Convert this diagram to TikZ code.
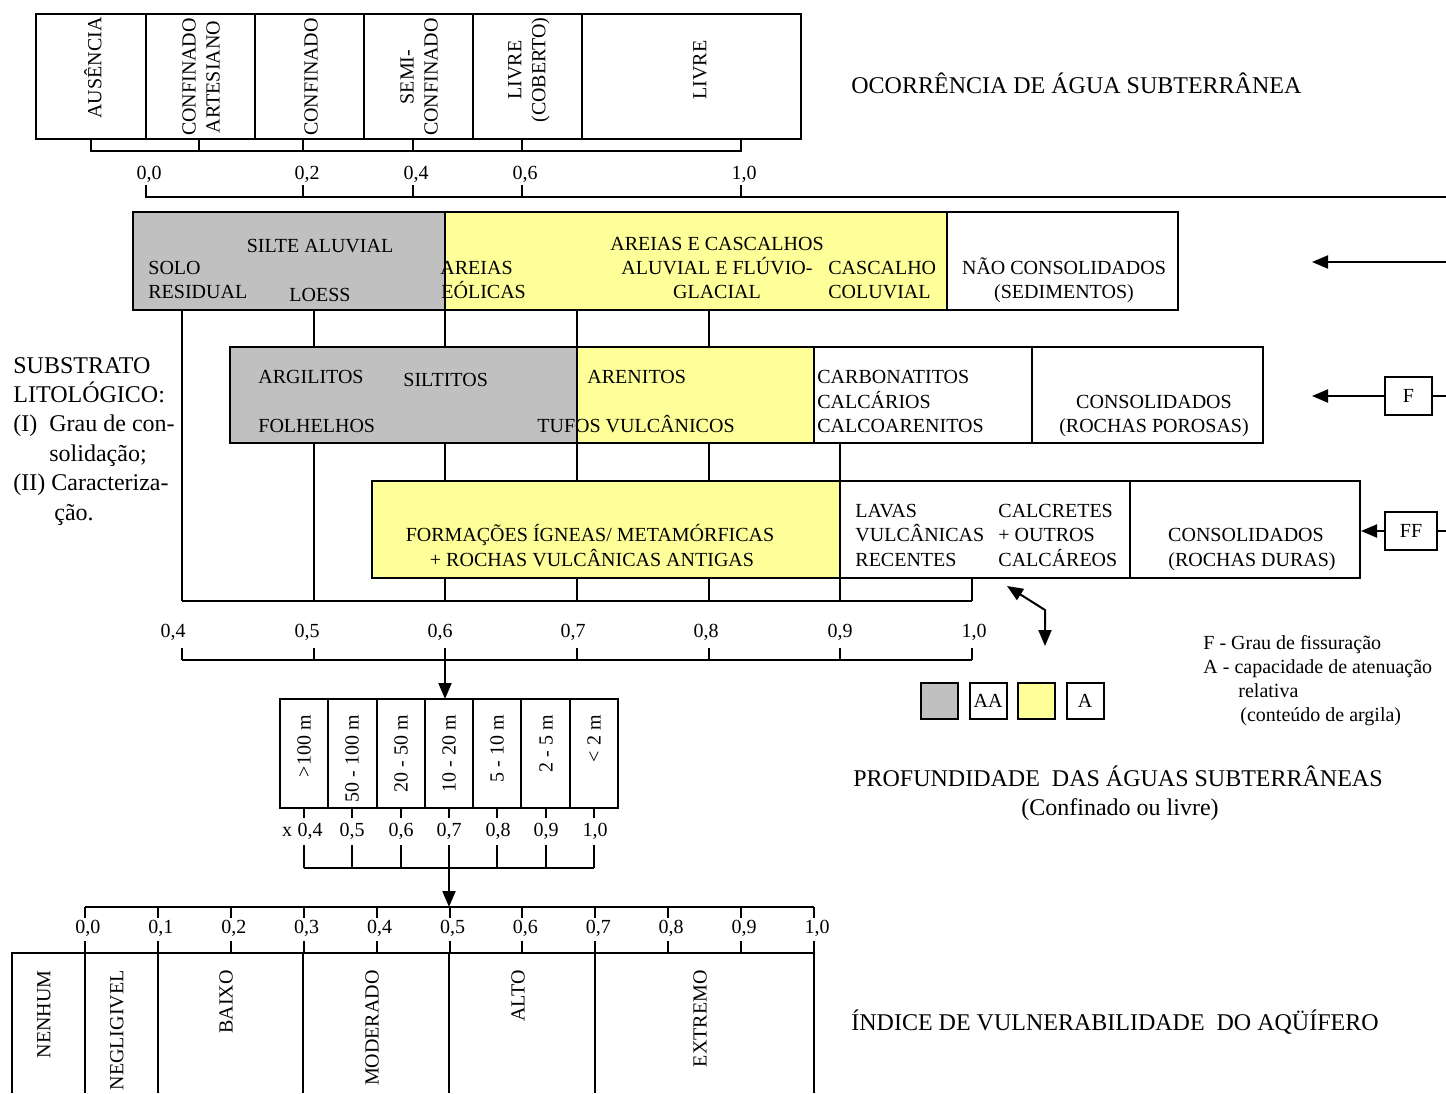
\documentclass[tikz,border=0pt]{standalone}
\usepackage{fontspec}
\setmainfont{Liberation Serif}
\usetikzlibrary{arrows.meta}
\definecolor{gr}{HTML}{C0C0C0}
\definecolor{ye}{HTML}{FFFF99}
\begin{document}
\begin{tikzpicture}[x=0.5pt,y=-0.5pt,
  ln/.style={line width=1pt},
  t/.style={inner sep=0pt,font=\fontsize{10}{12}\selectfont},
  tl/.style={inner sep=0pt,font=\fontsize{12}{14.7}\selectfont},
  vt/.style={t,rotate=90,align=center},
  arr/.style={ln,-{Triangle[length=8pt,width=6.5pt]}},
  lbox/.style={draw,ln,t,minimum width=18.5pt,minimum height=18pt},
]
\useasboundingbox (0,0) rectangle (1446,1093);

% ---------- top: occurrence ----------
\draw[ln] (36,14) rectangle (801,139);
\foreach \x in {146,255,364,473,582} \draw[ln] (\x,14)--(\x,139);
\node[vt] (aus) at (93,68) {AUSÊNCIA};
\node[vt] (cart) at (201,77) {CONFINADO\\ARTESIANO};
\node[vt] (conf) at (311,77) {CONFINADO};
\node[vt] (semi) at (419,77) {SEMI-\\CONFINADO};
\node[vt] (livc) at (529,70) {LIVRE\\(COBERTO)};
\node[vt] (liv) at (700,70) {LIVRE};
\draw[ln] (91,139)--(91,151)--(741,151)--(741,139);
\foreach \x in {199,303,413,522} \draw[ln] (\x,139)--(\x,151);
\node[t,anchor=base] (o0) at (149,179) {0,0};
\node[t,anchor=base] (o2) at (307,179) {0,2};
\node[t,anchor=base] (o4) at (416,179) {0,4};
\node[t,anchor=base] (o6) at (525,179) {0,6};
\node[t,anchor=base] (o10) at (744,179) {1,0};
\draw[ln] (146,185)--(146,197)--(1446,197);
\foreach \x in {303,413,522,741} \draw[ln] (\x,185)--(\x,197);
\node[tl,anchor=base west] (ocor) at (851,93) {OCORRÊNCIA DE ÁGUA SUBTERRÂNEA};

% ---------- right side arrows ----------
\coordinate (r1) at (1446,262); \coordinate (a1) at (1312,262);
\draw[arr] (r1)--(a1);
\node[draw,ln,t,minimum width=23.5pt,minimum height=19pt] (F) at (1408.5,396) {F};
\coordinate (r2) at (1446,396); \coordinate (a2) at (1312,396);
\draw[ln] (r2)--(F.east); \draw[arr] (F.west)--(a2);
\node[draw,ln,t,minimum width=26pt,minimum height=19pt] (FF) at (1411,531) {FF};
\coordinate (r3) at (1446,531); \coordinate (a3) at (1361,531);
\draw[ln] (r3)--(FF.east); \draw[arr] (FF.west)--(a3);

% ---------- row 1 ----------
\fill[gr] (133,212) rectangle (445,310);
\fill[ye] (445,212) rectangle (947,310);
\draw[ln] (133,212) rectangle (1178,310);
\draw[ln] (445,212)--(445,310);
\draw[ln] (947,212)--(947,310);
\node[t,anchor=base] (silte) at (320,252) {SILTE ALUVIAL};
\node[t,anchor=base west] (solo) at (148,274) {SOLO};
\node[t,anchor=base west] (resid) at (148,298) {RESIDUAL};
\node[t,anchor=base] (loess) at (320,301) {LOESS};
\node[t,anchor=base west] (areias) at (440,274) {AREIAS};
\node[t,anchor=base west] (eolic) at (441,298) {EÓLICAS};
\node[t,anchor=base] (arcas) at (717,250) {AREIAS E CASCALHOS};
\node[t,anchor=base] (aluv) at (717,274) {ALUVIAL E FLÚVIO-};
\node[t,anchor=base] (glac) at (717,298) {GLACIAL};
\node[t,anchor=base west] (casc) at (828,274) {CASCALHO};
\node[t,anchor=base west] (coluv) at (828,298) {COLUVIAL};
\node[t,anchor=base] (naocon) at (1064,274) {NÃO CONSOLIDADOS};
\node[t,anchor=base] (sedim) at (1064,298) {(SEDIMENTOS)};

% ---------- row 2 ----------
\fill[gr] (230,347) rectangle (577,443);
\fill[ye] (577,347) rectangle (814,443);
\draw[ln] (230,347) rectangle (1263,443);
\foreach \x in {577,814,1032} \draw[ln] (\x,347)--(\x,443);
\node[t,anchor=base west] (argil) at (258,383) {ARGILITOS};
\node[t,anchor=base west] (siltit) at (403,386) {SILTITOS};
\node[t,anchor=base west] (folh) at (258,432) {FOLHELHOS};
\node[t,anchor=base west] (aren) at (587,383) {ARENITOS};
\node[t,anchor=base west] (tufos) at (537,432) {TUFOS VULCÂNICOS};
\node[t,anchor=base west] (carb) at (817,383) {CARBONATITOS};
\node[t,anchor=base west] (calc) at (817,408) {CALCÁRIOS};
\node[t,anchor=base west] (calcoa) at (817,432) {CALCOARENITOS};
\node[t,anchor=base] (consp) at (1154,408) {CONSOLIDADOS};
\node[t,anchor=base] (rporo) at (1154,432) {(ROCHAS POROSAS)};

% ---------- row 3 ----------
\fill[ye] (372,481) rectangle (840,578);
\draw[ln] (372,481) rectangle (1360,578);
\foreach \x in {840,1130} \draw[ln] (\x,481)--(\x,578);
\node[t,anchor=base] (form) at (590,541) {FORMAÇÕES ÍGNEAS/ METAMÓRFICAS};
\node[t,anchor=base] (rvulc) at (592,566) {+ ROCHAS VULCÂNICAS ANTIGAS};
\node[t,anchor=base west] (lavas) at (855,517) {LAVAS};
\node[t,anchor=base west] (vulc) at (855,541) {VULCÂNICAS};
\node[t,anchor=base west] (recen) at (855,566) {RECENTES};
\node[t,anchor=base west] (calcr) at (998,517) {CALCRETES};
\node[t,anchor=base west] (outros) at (998,541) {+ OUTROS};
\node[t,anchor=base west] (calcar) at (998,566) {CALCÁREOS};
\node[t,anchor=base] (consd) at (1246,541) {CONSOLIDADOS};
\node[t,anchor=base] (rduras) at (1252,566) {(ROCHAS DURAS)};

% ---------- vertical connectors ----------
\draw[ln] (182,310)--(182,601);
\draw[ln] (314,310)--(314,347) (314,443)--(314,601);
\foreach \x in {445,577,709} \draw[ln] (\x,310)--(\x,347) (\x,443)--(\x,481) (\x,578)--(\x,601);
\draw[ln] (840,443)--(840,481) (840,578)--(840,601);
\draw[ln] (972,578)--(972,601);
\draw[ln] (182,601)--(972,601);
\node[t,anchor=base] (l4) at (173,637) {0,4};
\node[t,anchor=base] (l5) at (307,637) {0,5};
\node[t,anchor=base] (l6) at (440,637) {0,6};
\node[t,anchor=base] (l7) at (573,637) {0,7};
\node[t,anchor=base] (l8) at (706,637) {0,8};
\node[t,anchor=base] (l9) at (840,637) {0,9};
\node[t,anchor=base] (l10) at (974,637) {1,0};
\foreach \x in {182,314,445,577,709,840,972} \draw[ln] (\x,648)--(\x,660);
\draw[ln] (182,660)--(972,660);

% left text
\node[tl,anchor=base west] (subs) at (13,373) {SUBSTRATO};
\node[tl,anchor=base west] (lito) at (13,402) {LITOLÓGICO:};
\node[tl,anchor=base west] (i1) at (13,431) {(I)};
\node[tl,anchor=base west] (grau) at (49,431) {Grau de con-};
\node[tl,anchor=base west] (solid) at (49,461) {solidação;};
\node[tl,anchor=base west] (ii) at (13,490) {(II) Caracteriza-};
\node[tl,anchor=base west] (cao) at (54,520) {ção.};

% double arrow
\coordinate (d1) at (1007,586); \coordinate (d2) at (1045,610); \coordinate (d3) at (1045,646);
\draw[ln,{Triangle[length=8pt,width=6.5pt]}-{Triangle[length=8pt,width=6.5pt]}] (d1)--(d2)--(d3);

% legend
\node[lbox,fill=gr] (lg1) at (939.5,701) {};
\node[lbox] (lg2) at (988,701) {AA};
\node[lbox,fill=ye] (lg3) at (1036.5,701) {};
\node[lbox] (lg4) at (1085,701) {A};
\node[t,anchor=base west] (lf) at (1203,649) {F - Grau de fissuração};
\node[t,anchor=base west] (la) at (1203,673) {A - capacidade de atenuação};
\node[t,anchor=base west] (lr) at (1238,697) {relativa};
\node[t,anchor=base west] (lc) at (1240,721) {(conteúdo de argila)};

% ---------- depth ----------
\coordinate (dt) at (445,699);
\draw[arr] (445,660)--(dt);
\draw[ln] (280,699) rectangle (618,808);
\foreach \i in {1,...,6} \draw[ln] ({280+\i*48.286},699)--({280+\i*48.286},808);
\node[vt,anchor=east] (p1) at (304,715) {>100 m};
\node[vt,anchor=east] (p2) at (352,715) {50 - 100 m};
\node[vt,anchor=east] (p3) at (401,715) {20 - 50 m};
\node[vt,anchor=east] (p4) at (449,715) {10 - 20 m};
\node[vt,anchor=east] (p5) at (497,715) {5 - 10 m};
\node[vt,anchor=east] (p6) at (546,715) {2 - 5 m};
\node[vt,anchor=east] (p7) at (594,715) {< 2 m};
\foreach \x in {304,352,401,449,497,546,594} {\draw[ln] (\x,808)--(\x,818); \draw[ln] (\x,845)--(\x,868);}
\draw[ln] (304,868)--(594,868);
\node[t,anchor=base] (px) at (287,836) {x};
\node[t,anchor=base] (q4) at (310,836) {0,4};
\node[t,anchor=base] (q5) at (352,836) {0,5};
\node[t,anchor=base] (q6) at (401,836) {0,6};
\node[t,anchor=base] (q7) at (449,836) {0,7};
\node[t,anchor=base] (q8) at (498,836) {0,8};
\node[t,anchor=base] (q9) at (546,836) {0,9};
\node[t,anchor=base] (q10) at (595,836) {1,0};
\node[tl,anchor=base] (prof) at (1118,786) {PROFUNDIDADE\ \ DAS ÁGUAS SUBTERRÂNEAS};
\node[tl,anchor=base] (confl) at (1120,815) {(Confinado ou livre)};

% ---------- bottom ----------
\coordinate (bt) at (449,907);
\draw[arr] (449,868)--(bt);
\draw[ln] (85,907)--(814,907);
\foreach \i in {0,...,10} {
  \draw[ln] ({85+\i*72.9},907)--({85+\i*72.9},918);
  \draw[ln] ({85+\i*72.9},941)--({85+\i*72.9},953);
}
\foreach \i/\lab in {0/{0,0},1/{0,1},2/{0,2},3/{0,3},4/{0,4},5/{0,5},6/{0,6},7/{0,7},8/{0,8},9/{0,9},10/{1,0}}
  \node[t,anchor=base] at ({88+\i*72.9},933) {\lab};
\draw[ln] (12,1093)--(12,953)--(814,953)--(814,1093);
\foreach \x in {85,158,303,449,595} \draw[ln] (\x,953)--(\x,1093);
\node[vt,anchor=east] (v1) at (44,970) {NENHUM};
\node[vt,anchor=east] (v2) at (117,970) {NEGLIGIVEL};
\node[vt,anchor=east] (v3) at (226,970) {BAIXO};
\node[vt,anchor=east] (v4) at (372,970) {MODERADO};
\node[vt,anchor=east] (v5) at (518,970) {ALTO};
\node[vt,anchor=east] (v6) at (700,970) {EXTREMO};
\node[tl,anchor=base west] (indice) at (851,1030) {ÍNDICE DE VULNERABILIDADE\ \ DO AQÜÍFERO};
\end{tikzpicture}
\end{document}
